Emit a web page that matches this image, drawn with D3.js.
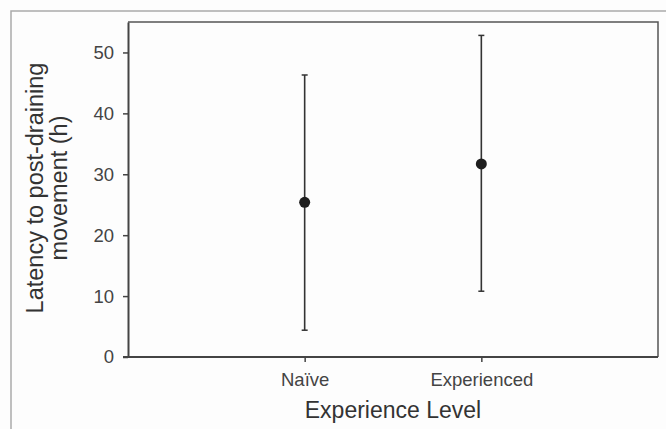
<!DOCTYPE html>
<html><head><meta charset="utf-8">
<script src="https://cdn.jsdelivr.net/npm/d3@7"></script>
<style>body{margin:0;background:#fff;}svg{display:block;font-family:"Liberation Sans",Arial,sans-serif;}</style>
</head><body>
<svg id="c" width="666" height="429"></svg>
<script>
const categories = ["Naïve", "Experienced"];
const means = [25.4, 31.7];
const upper = [46.3, 52.8];
const lower = [4.4, 10.8];
const yTicks = [0, 10, 20, 30, 40, 50];

const svg = d3.select("#c");
const L = 128, R = 658, T = 22, B = 357;

// outer frame
svg.append("rect").attr("width",666).attr("height",429).attr("fill","#fdfdfd");
svg.append("path").attr("d","M11,429V11H666").attr("fill","none").attr("stroke","#aaa").attr("stroke-width",1.5);

const x = d3.scalePoint().domain(categories).range([L, R]).padding(1);
const y = d3.scaleLinear().domain([0, 55]).range([B, T]);

// plot frame
svg.append("path").attr("d",`M${L},${T}H${R}V${B}`).attr("fill","none").attr("stroke","#555").attr("stroke-width",1.5);

const yAxis = svg.append("g").attr("transform",`translate(${L},0)`)
  .call(d3.axisLeft(y).tickValues(yTicks).tickSize(5).tickSizeOuter(0).tickPadding(9));
const xAxis = svg.append("g").attr("transform",`translate(0,${B})`)
  .call(d3.axisBottom(x).tickSize(5).tickSizeOuter(0).tickPadding(11));
[yAxis, xAxis].forEach(g => {
  g.select(".domain").attr("stroke","#444").attr("stroke-width",2);
  g.selectAll(".tick line").attr("stroke","#444").attr("stroke-width",1.5);
  g.selectAll(".tick text").attr("fill","#444").attr("font-size",18.5).attr("font-family","Liberation Sans, Arial, sans-serif");
});
xAxis.select(".domain").attr("d",`M${L-5},0H${R}`);

// error bars
const g = svg.append("g");
categories.forEach((c,i) => {
  const cx = x(c);
  g.append("line").attr("x1",cx).attr("x2",cx).attr("y1",y(upper[i])).attr("y2",y(lower[i]))
    .attr("stroke","#333").attr("stroke-width",1.6);
  [upper[i], lower[i]].forEach(v => g.append("line").attr("x1",cx-3).attr("x2",cx+3).attr("y1",y(v)).attr("y2",y(v))
    .attr("stroke","#333").attr("stroke-width",1.5));
  g.append("circle").attr("cx",cx).attr("cy",y(means[i])).attr("r",5.5).attr("fill","#1e1e1e");
});

// axis titles
svg.append("text").attr("x",(L+R)/2).attr("y",418).attr("text-anchor","middle")
  .attr("font-size",23).attr("fill","#333").text("Experience Level");
const yl = svg.append("text").attr("transform","translate(43,188) rotate(-90)")
  .attr("text-anchor","middle").attr("font-size",23.5).attr("fill","#333");
yl.append("tspan").attr("x",0).attr("y",0).text("Latency to post-draining");
yl.append("tspan").attr("x",0).attr("y",23.5).text("movement (h)");
</script>
</body></html>
